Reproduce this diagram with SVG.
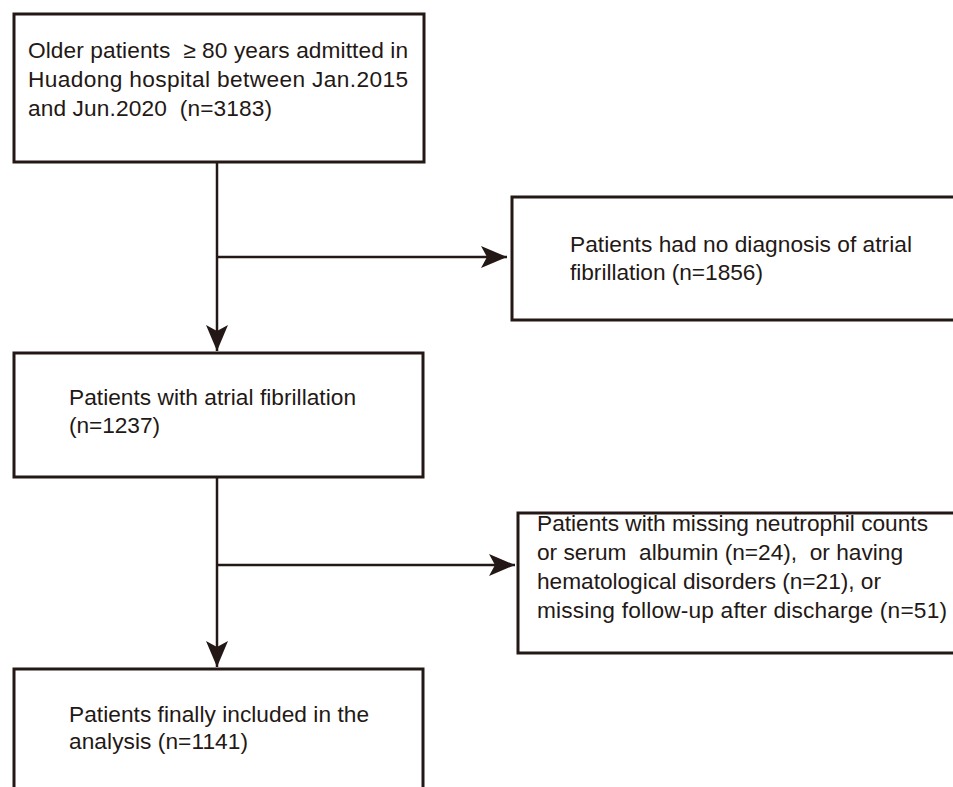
<svg xmlns="http://www.w3.org/2000/svg" width="953" height="787" viewBox="0 0 953 787" xml:space="preserve">
<defs>
<style>
.box{fill:#fff;stroke:#231815;stroke-width:3}
.t{font-family:"Liberation Sans",Arial,sans-serif;font-size:22.7px;fill:#231815;white-space:pre}
.c{fill:none;stroke:#231815;stroke-width:2.5}
</style>
<marker id="ah" markerUnits="userSpaceOnUse" markerWidth="28" markerHeight="22" viewBox="0 0 28 22" refX="26" refY="11" orient="auto">
<path d="M0,0 L26,11 L0,22 L6,11 Z" fill="#231815"/>
</marker>
</defs>
<rect width="953" height="787" fill="#fff"/>
<g id="connectors">
<line class="c" x1="217" y1="162" x2="217" y2="351" marker-end="url(#ah)"/>
<line class="c" x1="217" y1="257" x2="507" y2="257" marker-end="url(#ah)"/>
<line class="c" x1="217" y1="477" x2="217" y2="667" marker-end="url(#ah)"/>
<line class="c" x1="217" y1="565" x2="515" y2="565" marker-end="url(#ah)"/>
</g>
<g id="n1">
<rect class="box" x="14" y="14" width="410" height="148"/>
<text class="t" x="28" y="58" textLength="380" lengthAdjust="spacing">Older patients  ≥ 80 years admitted in</text>
<text class="t" x="28" y="87" textLength="380" lengthAdjust="spacing">Huadong hospital between Jan.2015</text>
<text class="t" x="28" y="116" textLength="244" lengthAdjust="spacing">and Jun.2020  (n=3183)</text>
</g>
<g id="n2">
<rect class="box" x="512" y="197" width="450" height="123"/>
<text class="t" x="570" y="252" textLength="342" lengthAdjust="spacing">Patients had no diagnosis of atrial</text>
<text class="t" x="570" y="280" textLength="193" lengthAdjust="spacing">fibrillation (n=1856)</text>
</g>
<g id="n3">
<rect class="box" x="14" y="353" width="409" height="124"/>
<text class="t" x="69" y="405" textLength="287" lengthAdjust="spacing">Patients with atrial fibrillation</text>
<text class="t" x="69" y="433" textLength="91" lengthAdjust="spacing">(n=1237)</text>
</g>
<g id="n4">
<rect class="box" x="518" y="513" width="450" height="140"/>
<text class="t" x="537" y="531" textLength="391" lengthAdjust="spacing">Patients with missing neutrophil counts</text>
<text class="t" x="537" y="560" textLength="366" lengthAdjust="spacing">or serum  albumin (n=24),  or having</text>
<text class="t" x="537" y="589" textLength="344" lengthAdjust="spacing">hematological disorders (n=21), or</text>
<text class="t" x="537" y="618" textLength="410" lengthAdjust="spacing">missing follow-up after discharge (n=51)</text>
</g>
<g id="n5">
<rect class="box" x="14" y="669" width="409" height="140"/>
<text class="t" x="69" y="722" textLength="300" lengthAdjust="spacing">Patients finally included in the</text>
<text class="t" x="69" y="749" textLength="179" lengthAdjust="spacing">analysis (n=1141)</text>
</g>
</svg>
